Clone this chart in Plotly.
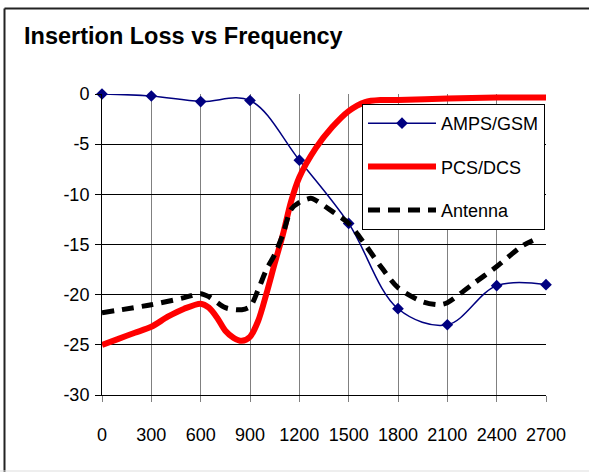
import plotly.graph_objects as go

# ---- data ----
x_ticks = [0, 300, 600, 900, 1200, 1500, 1800, 2100, 2400, 2700]
y_ticks = [0, -5, -10, -15, -20, -25, -30]
y_tick_text = ["0", "-5", "-10", "-15", "-20", "-25", "-30"]

amps_freq = [0, 300, 600, 900, 1200, 1500, 1800, 2100, 2400, 2700]
amps_loss = [0.0, -0.2, -0.75, -0.65, -6.6, -12.9, -21.4, -23.0, -19.1, -19.0]

pcs_freq = [0, 100, 200, 300, 400, 500, 600, 650, 700, 750, 800, 850, 900, 950,
            1000, 1050, 1100, 1150, 1200, 1300, 1400, 1500, 1600, 1700, 1800,
            2100, 2400, 2700]
pcs_loss = [-25.0, -24.4, -23.8, -23.2, -22.2, -21.4, -20.9, -21.3, -22.3, -23.6,
            -24.3, -24.6, -24.2, -22.6, -19.9, -16.9, -14.0, -10.7, -8.3, -5.4,
            -3.3, -1.7, -0.8, -0.6, -0.6, -0.45, -0.35, -0.35]

ant_freq = [0, 300, 500, 600, 650, 750, 850, 900, 950, 1000, 1050, 1100, 1150,
            1200, 1270, 1300, 1400, 1500, 1600, 1700, 1800, 1950, 2050, 2100,
            2250, 2400, 2550, 2620]
ant_loss = [-21.8, -21.0, -20.3, -19.9, -20.2, -21.3, -21.5, -21.2, -19.5, -17.5,
            -16.0, -14.0, -11.5, -10.8, -10.4, -10.6, -11.7, -12.9, -15.0, -17.3,
            -19.3, -20.7, -21.0, -20.8, -19.0, -17.2, -15.2, -14.6]

FONT = "Arial, 'Liberation Sans', sans-serif"

fig = go.Figure()

fig.add_trace(go.Scatter(
    x=amps_freq, y=amps_loss, name="AMPS/GSM", mode="lines+markers",
    line=dict(color="#000080", width=1.5, shape="spline", smoothing=1.0),
    marker=dict(symbol="diamond", size=9, color="#000080"),
    cliponaxis=False, legendgroup="a"))

fig.add_trace(go.Scatter(
    x=pcs_freq, y=pcs_loss, name="PCS/DCS", mode="lines",
    line=dict(color="#FF0000", width=6, shape="spline", smoothing=0.8),
    legendgroup="b"))

fig.add_trace(go.Scatter(
    x=ant_freq, y=ant_loss, name="Antenna", mode="lines",
    line=dict(color="#000000", width=5, dash="12px,8px", shape="spline", smoothing=0.8),
    legendgroup="c"))

# plot area in window pixels: x 102..546, y 94..395
L, R, T, B = 102, 43, 94, 77
W, H = 589, 472
pw, ph = W - L - R, H - T - B

def px_x(p):
    return (p - L) / pw

def px_y(p):
    return (H - B - p) / ph

fig.update_layout(
    width=W, height=H, autosize=False,
    margin=dict(l=L, r=R, t=T, b=B, pad=0),
    paper_bgcolor="white", plot_bgcolor="white",
    font=dict(family=FONT, size=18, color="black"),
    title=dict(text="<b>Insertion Loss vs Frequency</b>", x=24 / W, xanchor="left",
               xref="container", y=1 - 36 / H, yanchor="middle", yref="container",
               font=dict(family=FONT, size=23.5, color="black")),
    showlegend=True,
    legend=dict(x=px_x(362), y=px_y(104), xanchor="left", yanchor="top",
                bgcolor="white", bordercolor="black", borderwidth=1,
                font=dict(family=FONT, size=18, color="black"),
                traceorder="grouped", tracegroupgap=17, itemwidth=68),
    xaxis=dict(range=[0, 2700], tickmode="array", tickvals=x_ticks,
               ticktext=[str(v) for v in x_ticks],
               showgrid=True, gridcolor="#808080", gridwidth=1,
               showline=True, linecolor="black", linewidth=1,
               ticks="outside", ticklen=6, tickcolor="#808080",
               zeroline=False, ticklabelstandoff=17,
               tickfont=dict(family=FONT, size=18)),
    yaxis=dict(range=[-30, 0], tickmode="array", tickvals=y_ticks,
               ticktext=y_tick_text,
               showgrid=True, gridcolor="black", gridwidth=1,
               showline=True, linecolor="black", linewidth=1,
               ticks="outside", ticklen=6, tickcolor="black",
               zeroline=False, ticklabelstandoff=2,
               tickfont=dict(family=FONT, size=18)),
    shapes=[
        # outer chart frame: only top and left edges fall inside the picture
        dict(type="line", xref="paper", yref="paper",
             x0=px_x(4.5), x1=px_x(595), y0=px_y(8.5), y1=px_y(8.5),
             line=dict(color="#222222", width=2), layer="below"),
        dict(type="line", xref="paper", yref="paper",
             x0=px_x(4.5), x1=px_x(4.5), y0=px_y(8.5), y1=px_y(480),
             line=dict(color="#222222", width=2), layer="below"),
        dict(type="line", xref="paper", yref="paper",
             x0=px_x(0), x1=px_x(589), y0=px_y(471), y1=px_y(471),
             line=dict(color="#dddddd", width=1), layer="below"),
    ],
)

fig.write_html("out.html", config={"displayModeBar": False},
               post_script="document.body.style.margin='0';document.body.style.overflow='hidden';")
